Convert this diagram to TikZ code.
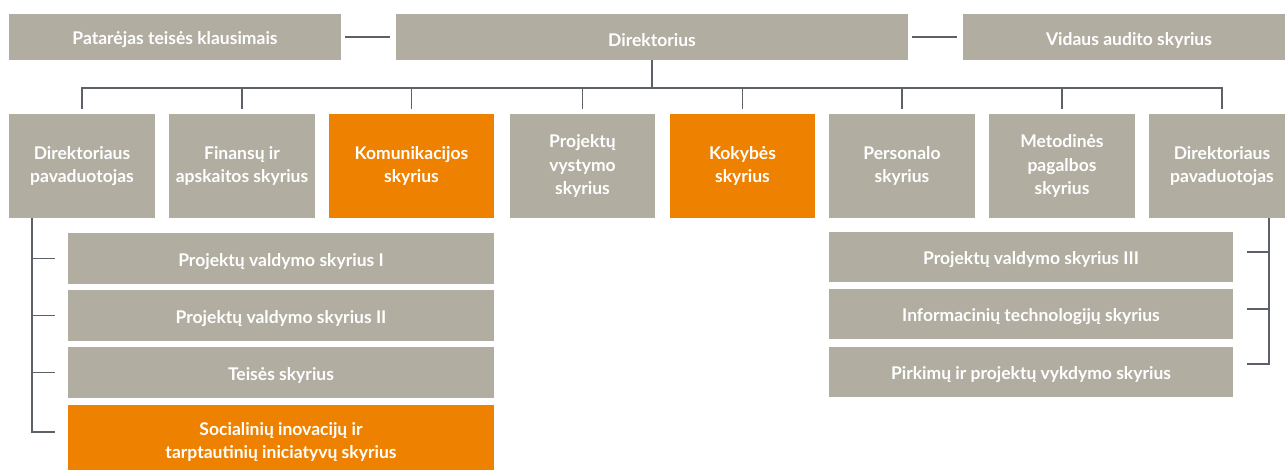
\documentclass[tikz,border=0pt]{standalone}
\usepackage{fontspec}
\setmainfont{Lato}
\usepackage{tikz}
\usepackage{xcolor}
\definecolor{unitgray}{HTML}{B1ADA1}
\definecolor{unitorange}{HTML}{EE8200}
\definecolor{linkgray}{HTML}{5B6166}

\begin{document}
\begin{tikzpicture}[x=1pt,y=-1pt,
  unit/.style={fill=unitgray,text=white,font=\fontsize{17.5}{23.5}\selectfont\bfseries,align=center,inner sep=0pt},
  hot/.style={unit,fill=unitorange},
  one/.style={text height=19pt},
  link/.style={draw=linkgray,line width=1.8pt}]
\useasboundingbox (0,0) rectangle (1285,470);
% top row
\node[unit,one,minimum width=332pt,minimum height=46pt] (pat) at (175,37) {Patarėjas teisės klausimais};
\node[unit,one,minimum width=512pt,minimum height=46pt] (dir) at (652,37) {Direktorius};
\node[unit,one,minimum width=332pt,minimum height=46pt] (aud) at (1129,37) {Vidaus audito skyrius};
\draw[link,shorten <=4pt,shorten >=6pt] (pat.east) -- (dir.west);
\draw[link,shorten <=4pt,shorten >=6pt] (dir.east) -- (aud.west);
% second row
\node[unit,minimum width=146pt,minimum height=104pt] (dep1) at (82,166) {Direktoriaus\\pavaduotojas};
\node[unit,minimum width=146pt,minimum height=104pt] (fin) at (242,166) {Finansų ir\\apskaitos skyrius};
\node[hot,minimum width=165pt,minimum height=104pt] (kom) at (411.5,166) {Komunikacijos\\skyrius};
\node[unit,minimum width=145pt,minimum height=104pt] (vys) at (582.5,166) {Projektų\\vystymo\\skyrius};
\node[hot,minimum width=145pt,minimum height=104pt] (kok) at (742.5,166) {Kokybės\\skyrius};
\node[unit,minimum width=146pt,minimum height=104pt] (per) at (902,166) {Personalo\\skyrius};
\node[unit,minimum width=146pt,minimum height=104pt] (met) at (1062,166) {Metodinės\\pagalbos\\skyrius};
\node[unit,minimum width=146pt,minimum height=104pt] (dep2) at (1222,166) {Direktoriaus\\pavaduotojas};
\coordinate (bus) at (652,88);
\draw[link] (dir.south) -- (bus);
\draw[link] ([yshift=5pt]dep1.north) |- (bus) -| ([yshift=5pt]dep2.north);
\foreach \u in {fin,kom,vys,kok,per,met}
  \draw[link] ([yshift=5pt]\u.north) -- (\u.north |- bus);
% left branch
\node[unit,one,minimum width=426pt,minimum height=51pt] (pv1) at (281,258.5) {Projektų valdymo skyrius I};
\node[unit,one,minimum width=426pt,minimum height=51pt] (pv2) at (281,315.5) {Projektų valdymo skyrius II};
\node[unit,one,minimum width=426pt,minimum height=51pt] (tei) at (281,372.5) {Teisės skyrius};
\node[hot,minimum width=426pt,minimum height=74pt] (soc) at (281,442) {Socialinių inovacijų ir\\tarptautinių iniciatyvų skyrius};
\coordinate (lspine) at ([xshift=-50pt]dep1.south);
\draw[link] (lspine) |- ([xshift=-13pt,yshift=10pt]soc.west);
\foreach \u in {pv1,pv2,tei}
  \draw[link] (lspine |- \u.west) -- ([xshift=-13pt]\u.west);
% right branch
\node[unit,one,minimum width=404pt,minimum height=50pt] (pv3) at (1031,257) {Projektų valdymo skyrius III};
\node[unit,one,minimum width=404pt,minimum height=50pt] (inf) at (1031,314) {Informacinių technologijų skyrius};
\node[unit,one,minimum width=404pt,minimum height=50pt] (pir) at (1031,372) {Pirkimų ir projektų vykdymo skyrius};
\coordinate (rspine) at ([xshift=47pt]dep2.south);
\draw[link] (rspine) |- ([xshift=14pt,yshift=8pt]pir.east);
\foreach \u in {pv3,inf}
  \draw[link] ([xshift=14pt,yshift=5pt]\u.east) -- ++(22pt,0);
\end{tikzpicture}
\end{document}
